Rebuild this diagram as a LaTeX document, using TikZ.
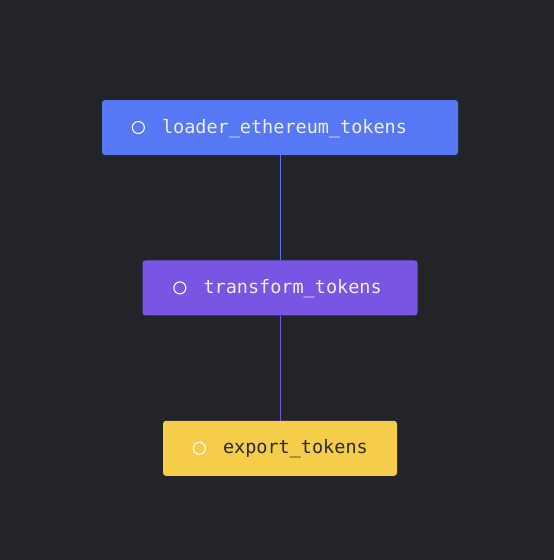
\documentclass[tikz,border=0pt]{standalone}
\usepackage{fontspec}
\setmonofont{DejaVu Sans Mono}
\usepackage{xcolor}
\usepackage{tikz}
\usetikzlibrary{positioning,calc}
\definecolor{bgdark}{HTML}{232428}
\definecolor{loaderblue}{HTML}{5778F5}
\definecolor{transpurple}{HTML}{7856E3}
\definecolor{exportyellow}{HTML}{F6CD4B}
\definecolor{darktext}{HTML}{2A2A2A}

\begin{document}
\begin{tikzpicture}[x=1pt, y=1pt,
      node distance=105pt,
      blk/.style={rounded corners=3pt, minimum height=55pt, inner sep=0pt},
      dot/.style={circle, draw=white, line width=1.1pt, minimum size=12pt, inner sep=0pt},
      lbl/.style={anchor=base west, inner sep=0pt, font=\ttfamily\fontsize{18.5}{20}\selectfont},
      edge/.style={line width=1pt}
    ]
      \fill[bgdark] (0,0) rectangle (554,-560);
      \useasboundingbox (0,0) rectangle (554,-560);

      \node[blk, fill=loaderblue, minimum width=356pt] (load) at (280,-127.5) {};
      \node[blk, fill=transpurple, minimum width=275pt, below=of load] (trans) {};
      \node[blk, fill=exportyellow, minimum width=234pt, below=of trans] (export) {};

      \node[dot, right=30pt of load.west] (loaddot) {};
      \node[dot, right=31pt of trans.west] (transdot) {};
      \node[dot, right=30pt of export.west] (exportdot) {};

      \node[lbl, text=white!94!black] (loadtxt) at ($(load.west)+(60,-5.5)$) {loader\_ethereum\_tokens};
      \node[lbl, text=white!94!black] (transtxt) at ($(trans.west)+(61,-5.5)$) {transform\_tokens};
      \node[lbl, text=darktext] (exporttxt) at ($(export.west)+(60,-5.5)$) {export\_tokens};

      \draw[edge, loaderblue] (load) -- (trans);
      \draw[edge, transpurple] (trans) -- (export);
    \end{tikzpicture}
\end{document}
